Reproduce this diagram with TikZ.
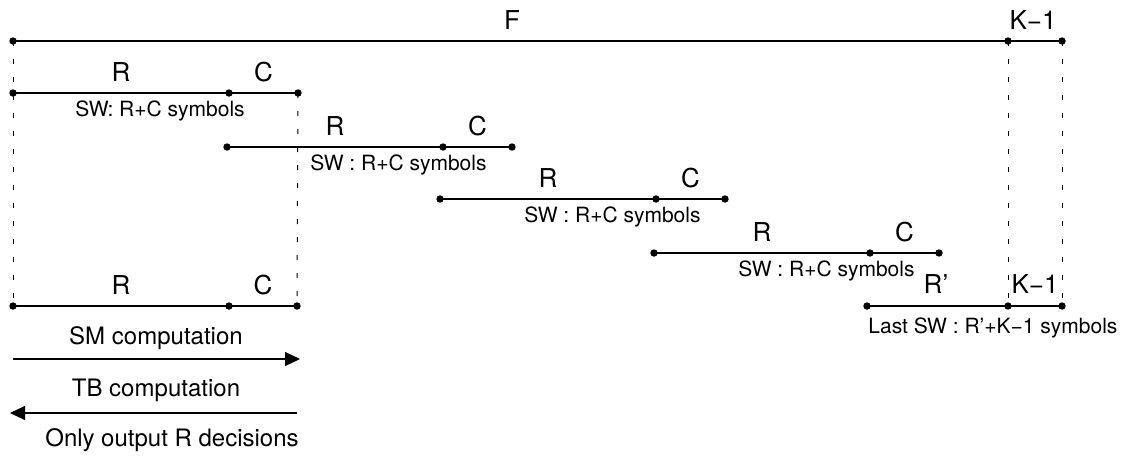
\documentclass[tikz,border=0pt]{standalone}
\usepackage{fontspec}
\setmainfont{TeX Gyre Heros}
\usetikzlibrary{arrows.meta,calc}
\tikzset{
  seg/.style={line width=0.55pt},
  guide/.style={line width=0.5pt, dash pattern=on 2.5pt off 6.5pt},
  dot/.style={circle, fill, inner sep=0pt, minimum size=3.7pt},
  biglabel/.style={font=\fontsize{13}{15}\selectfont, inner sep=0pt},
  caption/.style={font=\fontsize{10.5}{12}\selectfont, inner sep=0pt},
  flowtext/.style={font=\fontsize{12}{14}\selectfont, inner sep=0pt},
  flow/.style={line width=0.55pt, -{Triangle[length=7.5pt,width=7pt]}},
}
\begin{document}
\begin{tikzpicture}[x=0.5pt,y=-0.5pt]
\useasboundingbox (0,0) rectangle (1124,457);
% whole frame
\coordinate (f0) at (13,41);
\coordinate (f1) at (1008,41);
\coordinate (f2) at (1062,41);
\draw[seg] (f0) -- (f2);
\foreach \p in {0,1,2} \node[dot] at (f\p) {};
\node[biglabel] (lF) at (512,20) {F};
\node[biglabel] (lK) at (1033,20) {K−1};
%
\foreach \i/\x/\y/\cap/\off in {1/13/93/{SW: R+C symbols}/62, 2/227/147/{SW : R+C symbols}/83, 3/440/199/{SW : R+C symbols}/84, 4/654/253/{SW : R+C symbols}/84}{
  \coordinate (w\i a) at (\x,\y);
  \coordinate (w\i b) at (\x+216,\y);
  \coordinate (w\i c) at (\x+285,\y);
  \draw[seg] (w\i a) -- (w\i c);
  \foreach \p in {a,b,c} \node[dot] at (w\i\p) {};
  \node[biglabel] (w\i R) at ($(w\i a)!0.5!(w\i b)+(0,-21)$) {R};
  \node[biglabel] (w\i C) at ($(w\i b)!0.5!(w\i c)+(0,-21)$) {C};
  \node[caption, anchor=west] (w\i cap) at ($(w\i a)+(\off,18)$) {\cap};
}
% last window
\coordinate (la) at (867,306);
\coordinate (lb) at (1008,306);
\coordinate (lc) at (1062,306);
\draw[seg] (la) -- (lc);
\foreach \p in {a,b,c} \node[dot] at (l\p) {};
\node[biglabel] (lR) at (936,284) {R’};
\node[biglabel] (lKK) at (1035,284) {K−1};
\node[caption, anchor=west] (lcap) at (868,328) {Last SW : R’+K−1 symbols};
% decoded window
\coordinate (da) at (13,306);
\coordinate (db) at (229,306);
\coordinate (dc) at (297,306);
\draw[seg] (da) -- (dc);
\foreach \p in {a,b,c} \node[dot] at (d\p) {};
\node[biglabel] (dR) at ($(da)!0.5!(db)+(0,-21)$) {R};
\node[biglabel] (dC) at ($(db)!0.5!(dc)+(0,-21)$) {C};
% guides
\draw[guide] (f0) -- (da);
\draw[guide] (w1c) -- (dc);
\draw[guide] (f1) -- (lb);
\draw[guide] (f2) -- (lc);
% directions
\coordinate (sm0) at (13,359);
\coordinate (sm1) at (300,359);
\coordinate (tb0) at (297,413);
\coordinate (tb1) at (10,413);
\node[flowtext] (smtext) at (156,338) {SM computation};
\draw[flow] (sm0) -- (sm1);
\node[flowtext] (tbtext) at (156,390) {TB computation};
\draw[flow] (tb0) -- (tb1);
\node[flowtext] (outtext) at (172,440) {Only output R decisions};
\end{tikzpicture}
\end{document}
